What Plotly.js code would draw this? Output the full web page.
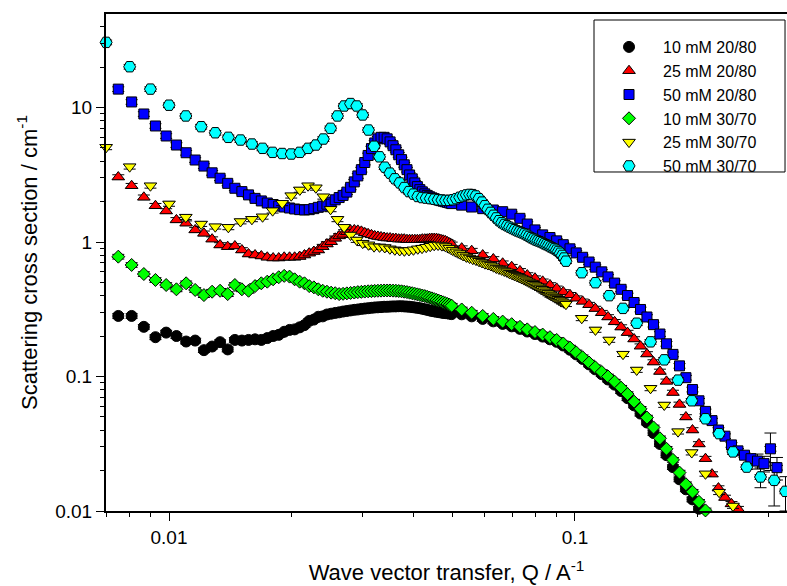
<!DOCTYPE html>
<html><head><meta charset="utf-8">
<script src="https://cdn.plot.ly/plotly-3.0.1.min.js"></script>
<style>html,body{margin:0;padding:0;background:#fff}#chart{width:787px;height:586px}</style>
</head><body><div id="chart"></div>
<script>
// Q grids (A^-1)
const qLowA = [0.00750,0.00809,0.00867,0.00926,0.00984,0.01043,0.01102,0.01160,0.01219,0.01277,
0.01336,0.01395,0.01453,0.01512,0.01570,0.01629,0.01688,0.01746,0.01805,0.01863,
0.01922,0.01981,0.02039,0.02098,0.02156,0.02215,0.02274,0.02332,0.02391,0.02449,
0.02508,0.02567,0.02625,0.02684,0.02742,0.02801,0.02860,0.02918,0.02977,0.03035,
0.03094,0.03153,0.03211,0.03270,0.03328,0.03387,0.03446,0.03504,0.03563,0.03621,
0.03680,0.03739,0.03797,0.03856,0.03914,0.03973,0.04032,0.04090,0.04149,0.04207,
0.04266,0.04325,0.04383,0.04442,0.04500,0.04559,0.04618,0.04676,0.04735,0.04793,
0.04852,0.04911,0.04969];
const qHighA = [0.05259,0.05566,0.05925,0.06292,0.06635,0.06983,0.07319,0.07628,0.07969,0.08325,
0.08677,0.09013,0.09357,0.09720,0.1007,0.1044,0.1083,0.1122,0.1164,0.1206,
0.1252,0.1299,0.1347,0.1398,0.1450,0.1504,0.1561,0.1619,0.1680,0.1743,
0.1809,0.1876,0.1947,0.2020,0.2096,0.2175,0.2256,0.2341,0.2429,0.2520,
0.2615,0.2713,0.2815,0.2921,0.3030,0.3144,0.3262];
const qLowB = [0.007,0.008,0.009,0.010,0.011,0.012,0.013,0.014,0.015,0.016,
0.017,0.018,0.019,0.020,0.021,0.022,0.023,0.024,0.025,0.026,
0.027,0.028,0.029,0.030,0.031,0.032,0.033,0.034,0.035,0.036,
0.037,0.038,0.039,0.040,0.041,0.042,0.043,0.044,0.045,0.046,
0.047,0.048,0.049,0.050,0.051,0.052,0.053,0.054,0.055,0.056,
0.057,0.058,0.059,0.060,0.061,0.062,0.063,0.064,0.065,0.066,
0.067,0.068,0.069,0.070,0.071,0.072,0.073,0.074,0.075,0.076,
0.077,0.078,0.079,0.080,0.081,0.082,0.083,0.084,0.085,0.086,
0.087,0.088,0.089,0.090,0.091,0.092,0.093,0.094,0.095];
const qHighB = [0.1039,0.1123,0.1214,0.1313,0.1419,0.1535,0.1659,0.1794,0.1939,0.2096,
0.2265,0.2450,0.2648,0.2864,0.3095,0.3300];

// 10 mM 20/80
const black_low = [0.282,0.282,0.234,0.196,0.212,0.200,0.182,0.185,0.157,0.167,
0.180,0.159,0.187,0.185,0.187,0.189,0.187,0.193,0.200,0.204,
0.215,0.222,0.224,0.232,0.241,0.259,0.265,0.278,0.280,0.289,
0.293,0.297,0.300,0.304,0.307,0.310,0.313,0.315,0.318,0.320,
0.322,0.324,0.326,0.327,0.328,0.330,0.330,0.331,0.332,0.332,
0.333,0.333,0.332,0.331,0.330,0.328,0.326,0.324,0.322,0.319,
0.316,0.313,0.310,0.307,0.305,0.303,0.301,0.299,0.297,0.296,
0.295,0.293,0.291];
const black_high = [0.290,0.280,0.268,0.257,0.246,0.236,0.226,0.216,0.207,0.198,
0.189,0.181,0.170,0.158,0.146,0.135,0.123,0.113,0.104,0.095,
0.087,0.078,0.069,0.061,0.053,0.0455,0.038,0.0315,0.026,0.0212,
0.0172,0.0145,0.0122,0.0104];
// 25 mM 20/80
const red_low = [3.04,2.62,2.15,1.86,1.70,1.46,1.38,1.23,1.16,1.05,
0.95,0.923,0.934,0.872,0.814,0.80,0.787,0.77,0.76,0.76,
0.77,0.77,0.77,0.78,0.80,0.826,0.85,0.872,0.923,0.966,
1.005,1.065,1.11,1.14,1.19,1.22,1.23,1.22,1.20,1.17,
1.15,1.13,1.11,1.10,1.09,1.08,1.07,1.07,1.06,1.06,
1.05,1.05,1.05,1.04,1.04,1.04,1.04,1.04,1.04,1.05,
1.05,1.05,1.06,1.06,1.06,1.06,1.05,1.04,1.03,1.02,
1.00,0.98,0.96];
const red_high = [0.90,0.862,0.80,0.748,0.695,0.655,0.61,0.568,0.538,0.51,
0.479,0.452,0.425,0.405,0.382,0.362,0.342,0.32,0.298,0.277,
0.255,0.233,0.212,0.190,0.168,0.147,0.128,0.109,0.092,0.076,
0.062,0.050,0.040,0.0315,0.0245,0.0188,0.0148,0.0126,0.0113,0.0104];
// 50 mM 20/80
const blue_low = [13.7,11.0,8.95,7.29,6.14,5.26,4.61,4.07,3.67,3.27,
2.98,2.73,2.51,2.37,2.24,2.11,2.02,1.95,1.90,1.85,
1.82,1.79,1.76,1.74,1.73,1.74,1.77,1.81,1.85,1.91,
1.98,2.06,2.14,2.22,2.35,2.55,2.8,3.1,3.45,3.9,
4.4,4.95,5.45,5.85,6.0,6.0,5.85,5.55,5.2,4.85,
4.45,4.1,3.75,3.45,3.15,2.95,2.75,2.58,2.45,2.36,
2.28,2.22,2.17,2.13,2.10,2.07,2.05,2.03,2.01,1.99,
1.97,1.95,1.93];
const blue_high = [1.88,1.82,1.77,1.73,1.68,1.61,1.50,1.36,1.23,1.13,
1.08,1.02,0.955,0.89,0.83,0.77,0.71,0.65,0.60,0.55,
0.495,0.445,0.40,0.355,0.315,0.277,0.243,0.207,0.175,0.146,
0.12,0.098,0.08,0.066,0.055,0.047,0.040,0.036,0.031,0.028,
0.026,0.0245,0.0235,0.0225,0.029,0.021];
const blueTailErr = [0.003,0.003,0.009,0.004];
// 10 mM 30/70
const green_low = [0.778,0.675,0.578,0.522,0.479,0.445,0.493,0.440,0.403,0.427,
0.434,0.410,0.479,0.445,0.434,0.470,0.493,0.507,0.528,0.547,
0.560,0.553,0.528,0.507,0.493,0.470,0.460,0.445,0.434,0.427,
0.420,0.416,0.410,0.412,0.415,0.418,0.421,0.424,0.426,0.428,
0.430,0.431,0.433,0.434,0.435,0.436,0.436,0.436,0.435,0.434,
0.432,0.430,0.427,0.424,0.420,0.416,0.412,0.408,0.404,0.400,
0.396,0.391,0.386,0.381,0.376,0.371,0.366,0.361,0.356,0.351,
0.346,0.341,0.336];
const green_high = [0.315,0.298,0.282,0.268,0.256,0.245,0.234,0.224,0.214,0.205,
0.196,0.187,0.176,0.164,0.151,0.139,0.127,0.117,0.108,0.100,
0.0915,0.0825,0.0740,0.0650,0.0575,0.0495,0.0418,0.0347,0.0290,0.0240,
0.0193,0.0158,0.0139,0.0117,0.0101];
// 25 mM 30/70
const yellow_low = [5.06,3.63,2.62,1.92,1.53,1.36,1.30,1.286,1.42,1.475,
1.54,1.71,1.94,2.21,2.44,2.62,2.53,2.17,1.75,1.475,
1.286,1.127,1.035,0.98,0.953,0.923,0.92,0.91,0.89,0.875,
0.865,0.86,0.865,0.875,0.89,0.90,0.915,0.93,0.945,0.95,
0.94,0.925,0.90,0.87,0.845,0.82,0.795,0.775,0.76,0.745,
0.735,0.72,0.705,0.69,0.68,0.67,0.655,0.64,0.63,0.62,
0.61,0.60,0.585,0.575,0.565,0.555,0.545,0.535,0.525,0.515,
0.505,0.495,0.485,0.475,0.465,0.455,0.445,0.435,0.425,0.415,
0.405,0.398,0.39,0.383,0.375,0.368,0.36,0.353,0.345];
const yellow_high = [0.271,0.222,0.187,0.1466,0.1118,0.0817,0.0614,0.0389,0.0272,0.0189,0.0138,0.0109];
// 50 mM 30/70
const cyan_low = [30.5,20.1,13.7,10.4,8.65,7.2,6.49,6.0,5.73,5.35,
4.97,4.64,4.55,4.51,4.64,4.97,5.26,5.83,7.0,8.65,
10.26,10.7,10.26,8.8,6.8,5.15,4.3,3.6,3.25,2.95,
2.75,2.54,2.37,2.27,2.18,2.14,2.12,2.10,2.08,2.06,
2.05,2.04,2.04,2.06,2.10,2.15,2.2,2.24,2.26,2.25,
2.2,2.1,1.98,1.86,1.75,1.66,1.58,1.51,1.44,1.39,
1.35,1.32,1.29,1.26,1.235,1.21,1.19,1.17,1.15,1.125,
1.10,1.075,1.055,1.035,1.02,1.005,0.99,0.97,0.955,0.94,
0.92,0.905,0.89,0.87,0.85,0.825,0.795,0.76,0.72];
const cyan_high = [0.591,0.498,0.399,0.321,0.249,0.181,0.133,0.094,0.066,0.0485,
0.0376,0.0275,0.0212,0.0179,0.0169,0.0140];
const cyanTailErr = [0.003,0.006,0.004];

const seriesNames = ['10 mM 20/80','25 mM 20/80','50 mM 20/80','10 mM 30/70','25 mM 30/70','50 mM 30/70'];
const xTickVals = [0.01, 0.1];
const xTickText = ['0.01', '0.1'];
const xMinorVals = [0.007,0.008,0.009,0.02,0.03,0.04,0.05,0.06,0.07,0.08,0.09,0.2,0.3];
const yTickVals = [0.01, 0.1, 1, 10];
const yTickText = ['0.01', '0.1', '1', '10'];
const yMinorVals = [0.02,0.03,0.04,0.05,0.06,0.07,0.08,0.09,0.2,0.3,0.4,0.5,0.6,0.7,0.8,0.9,2,3,4,5,6,7,8,9,20,30,40];

const qA = qLowA.concat(qHighA);
const qB = qLowB.concat(qHighB);

function series(name, q, vals, symbol, color, size) {
  return {
    type: 'scatter', mode: 'markers', name: name,
    x: q.slice(0, vals.length), y: vals,
    cliponaxis: false,
    marker: {symbol: symbol, color: color, size: size, line: {color: '#000', width: 1}},
    error_y: {type: 'percent', value: 4, color: '#000', thickness: 1, width: 6}
  };
}
function tail(q, vals, errs) {
  const n = vals.length, m = errs.length;
  return {
    type: 'scatter', mode: 'markers', showlegend: false, hoverinfo: 'skip',
    x: q.slice(n - m, n), y: vals.slice(n - m, n), cliponaxis: false,
    marker: {size: 2, opacity: 0},
    error_y: {type: 'data', array: errs, color: '#000', thickness: 1, width: 6}
  };
}
const blackV = black_low.concat(black_high);
const redV = red_low.concat(red_high);
const blueV = blue_low.concat(blue_high);
const greenV = green_low.concat(green_high);
const yellowV = yellow_low.concat(yellow_high);
const cyanV = cyan_low.concat(cyan_high);

const data = [
  tail(qA, blueV, blueTailErr),
  tail(qB, cyanV, cyanTailErr),
  series(seriesNames[0], qA, blackV, 'circle', '#000000', 11),
  series(seriesNames[1], qA, redV, 'triangle-up', '#ff0000', 11),
  series(seriesNames[2], qA, blueV, 'square', '#0000ff', 10),
  series(seriesNames[3], qA, greenV, 'diamond', '#00ff00', 10),
  series(seriesNames[4], qB, yellowV, 'triangle-down', '#ffff00', 11),
  series(seriesNames[5], qB, cyanV, 'hexagon2', '#00ffff', 12)
];

const axisCommon = {
  type: 'log', showline: true, linewidth: 2, linecolor: '#000', showgrid: false, zeroline: false,
  ticks: 'outside', ticklen: 8, tickwidth: 1, tickcolor: '#000', tickmode: 'array',
  tickfont: {size: 19, color: '#000'}, automargin: false
};
const layout = {
  width: 787, height: 586,
  margin: {l: 106, r: 0, t: 14, b: 75, pad: 0},
  paper_bgcolor: '#fff', plot_bgcolor: '#fff',
  font: {family: 'Arial, "Liberation Sans", sans-serif', color: '#000', size: 16},
  showlegend: true,
  legend: {x: 0.7181, xanchor: 'left', y: 0.9678, yanchor: 'top', bgcolor: 'rgba(0,0,0,0)',
           borderwidth: 0, font: {size: 16}, itemwidth: 58},
  shapes: [{type: 'rect', xref: 'paper', yref: 'paper', x0: 0.7166, x1: 0.9971, y0: 0.6821, y1: 0.9879,
            line: {color: '#000', width: 1}, fillcolor: '#fff', layer: 'above'}],
  xaxis: Object.assign({}, axisCommon, {
    range: [-2.1552, -0.4778], mirror: true,
    tickvals: xTickVals, ticktext: xTickText,
    minor: {tickmode: 'array', tickvals: xMinorVals, ticks: 'outside', ticklen: 4, tickwidth: 1, tickcolor: '#000', showgrid: false},
    title: {text: 'Wave vector transfer, Q / A<sup>-1</sup>', font: {size: 22}, standoff: 18}
  }),
  yaxis: Object.assign({}, axisCommon, {
    range: [-2, 1.6952], mirror: false,
    tickvals: yTickVals, ticktext: yTickText,
    minor: {tickmode: 'array', tickvals: yMinorVals, ticks: 'outside', ticklen: 4, tickwidth: 1, tickcolor: '#000', showgrid: false},
    title: {text: 'Scattering cross section / cm<sup>-1</sup>', font: {size: 22}, standoff: 12}
  })
};
Plotly.newPlot('chart', data, layout, {displayModeBar: false, staticPlot: true});
</script>
</body></html>
